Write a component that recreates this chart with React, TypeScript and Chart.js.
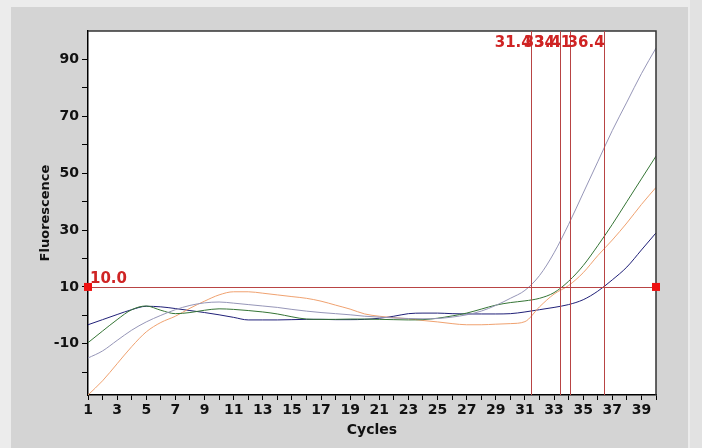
import React, { useEffect, useRef } from "react";
import { Chart, registerables } from "chart.js";

Chart.register(...registerables);

const cycles = [1, 2, 3, 4, 5, 6, 7, 8, 9, 10, 11, 12, 13, 14, 15, 16, 17, 18, 19, 20, 21, 22, 23, 24, 25, 26, 27, 28, 29, 30, 31, 32, 33, 34, 35, 36, 37, 38, 39, 40];

const grayCurve = [-15, -12.5, -8.8, -5.2, -2.3, 0, 2, 3.5, 4.4, 4.7, 4.3, 3.8, 3.3, 2.8, 2.1, 1.5, 1.0, 0.6, 0.2, -0.3, -0.6, -0.9, -1.1, -1.2, -1.1, -0.6, 0.2, 1.5, 3.5, 6.0, 8.8, 14, 22, 32, 43, 54, 65, 75, 85, 94];
const greenCurve = [-9.6, -5.5, -1.5, 2, 3.3, 1.8, 0.6, 1.0, 1.8, 2.3, 2.1, 1.7, 1.2, 0.5, -0.5, -1.3, -1.4, -1.4, -1.3, -1.3, -1.4, -1.5, -1.6, -1.5, -1.0, -0.2, 0.8, 2.2, 3.6, 4.5, 5.1, 6.0, 8.0, 12, 17.5, 24.5, 32, 40, 48, 56];
const orangeCurve = [-28, -23, -17, -11, -5.8, -2.5, -0.3, 2.5, 5, 7.2, 8.3, 8.3, 7.8, 7.2, 6.6, 6.0, 5.0, 3.6, 2.2, 0.5, -0.3, -0.8, -1.2, -1.8, -2.3, -2.9, -3.3, -3.3, -3.1, -2.9, -2.2, 3, 7.5, 10.5, 15, 21, 26.5, 32.5, 39, 45];
const navyCurve = [-3.3, -1.5, 0.3, 2, 3.2, 3.0, 2.4, 1.7, 1.0, 0.2, -0.7, -1.6, -1.6, -1.6, -1.5, -1.4, -1.4, -1.5, -1.5, -1.4, -1.0, -0.3, 0.6, 0.8, 0.8, 0.6, 0.5, 0.5, 0.5, 0.6, 1.2, 2.0, 2.8, 3.8, 5.5, 8.5, 12.5, 17, 23, 29];

const thresholdValue = 10.0;
const thresholdLabel = "10.0";
const ctValues = [31.4, 33.4, 34.1, 36.4];
const ctLabels = ["31.4", "33.4", "34.1", "36.4"];

const yTickValues = [-20, -10, 0, 10, 20, 30, 40, 50, 60, 70, 80, 90];
const yLabeledTicks = [-10, 10, 30, 50, 70, 90];
const xLabeledTicks = [1, 3, 5, 7, 9, 11, 13, 15, 17, 19, 21, 23, 25, 27, 29, 31, 33, 35, 37, 39];

const TICK_FONT = { family: "'DejaVu Sans', sans-serif", size: 14, weight: "bold" as const };
const TITLE_FONT = { family: "'DejaVu Sans', sans-serif", size: 13, weight: "bold" as const };
const X_TITLE_FONT = { family: "'DejaVu Sans', sans-serif", size: 14, weight: "bold" as const };
const RED_LINE = "#b84444";
const RED_TEXT = "#cf2424";

const toPoints = (vals: number[]) => cycles.map((c, i) => ({ x: c, y: vals[i] }));

const panelPlugin = {
  id: "panelPlugin",
  beforeDraw(chart: any) {
    const { ctx, chartArea, width, height } = chart;
    ctx.save();
    ctx.fillStyle = "#ececec";
    ctx.fillRect(0, 0, width, height);
    ctx.fillStyle = "#d4d4d4";
    ctx.fillRect(11, 7, 677, height - 7);
    ctx.fillStyle = "#e2e2e2";
    ctx.fillRect(690, 0, width - 690, height);
    ctx.fillStyle = "#ffffff";
    ctx.fillRect(chartArea.left, chartArea.top, chartArea.right - chartArea.left, chartArea.bottom - chartArea.top);
    ctx.restore();
  },
  afterDatasetsDraw(chart: any) {
    const { ctx, chartArea, scales } = chart;
    const xs = scales.x;
    const ys = scales.y;
    ctx.save();
    // frame top & right
    ctx.strokeStyle = "#333333";
    ctx.lineWidth = 1.5;
    ctx.beginPath();
    ctx.moveTo(chartArea.left, chartArea.top);
    ctx.lineTo(chartArea.right, chartArea.top);
    ctx.lineTo(chartArea.right, chartArea.bottom);
    ctx.stroke();

    // threshold line
    const ty = ys.getPixelForValue(thresholdValue);
    ctx.strokeStyle = RED_LINE;
    ctx.lineWidth = 1;
    ctx.beginPath();
    ctx.moveTo(chartArea.left, Math.round(ty) + 0.5);
    ctx.lineTo(chartArea.right, Math.round(ty) + 0.5);
    ctx.stroke();

    // Ct lines
    ctValues.forEach((v) => {
      const px = Math.round(xs.getPixelForValue(v)) + 0.5;
      ctx.beginPath();
      ctx.moveTo(px, chartArea.top);
      ctx.lineTo(px, chartArea.bottom);
      ctx.stroke();
    });

    // labels
    ctx.fillStyle = RED_TEXT;
    ctx.font = "bold 15px 'DejaVu Sans', sans-serif";
    ctx.textBaseline = "alphabetic";
    ctx.textAlign = "right";
    ctValues.forEach((v, i) => {
      const px = xs.getPixelForValue(v);
      ctx.fillText(ctLabels[i], px + 1, chartArea.top + 16);
    });
    ctx.textAlign = "left";
    ctx.fillText(thresholdLabel, chartArea.left + 2, ty - 4);

    // squares
    ctx.fillStyle = "#ee1111";
    ctx.fillRect(chartArea.left - 4, ty - 4, 8, 8);
    ctx.fillRect(chartArea.right - 4, ty - 4, 8, 8);
    ctx.restore();
  },
};

export default function App() {
  const canvasRef = useRef<HTMLCanvasElement | null>(null);

  useEffect(() => {
    document.body.style.margin = "0";
    const canvas = canvasRef.current;
    if (!canvas) return;
    const mk = (label: string, vals: number[], color: string) => ({
      label,
      data: toPoints(vals),
      borderColor: color,
      backgroundColor: color,
      borderWidth: 1,
      pointRadius: 0,
      cubicInterpolationMode: "monotone" as const,
      fill: false,
    });
    const chart = new Chart(canvas, {
      type: "line",
      data: {
        datasets: [
          mk("Sample 1", grayCurve, "#9696b8"),
          mk("Sample 2", greenCurve, "#357535"),
          mk("Sample 3", orangeCurve, "#f0a270"),
          mk("Sample 4", navyCurve, "#202078"),
        ],
      },
      options: {
        animation: false,
        responsive: false,
        events: [],
        layout: { padding: { left: 12, top: 31, right: 46, bottom: 0 } },
        plugins: {
          legend: { display: false },
          tooltip: { enabled: false },
        },
        scales: {
          x: {
            type: "linear",
            min: 1,
            max: 40,
            afterFit: (s: any) => {
              s.height = 53;
            },
            ticks: {
              stepSize: 1,
              autoSkip: false,
              maxRotation: 0,
              color: "#111111",
              font: TICK_FONT,
              padding: 2,
              callback: (v: any) => (xLabeledTicks.includes(Number(v)) ? String(v) : ""),
            },
            grid: { drawOnChartArea: false, color: "#000000", tickLength: 5 },
            border: { color: "#000000", width: 1.5 },
            title: {
              display: true,
              text: "Cycles",
              color: "#111111",
              font: X_TITLE_FONT,
              padding: { top: 0, bottom: 9 },
            },
          },
          y: {
            type: "linear",
            min: -28,
            max: 100,
            afterFit: (s: any) => {
              s.width = 76;
            },
            afterBuildTicks: (s: any) => {
              s.ticks = yTickValues.map((v) => ({ value: v }));
            },
            ticks: {
              color: "#111111",
              font: TICK_FONT,
              padding: 3,
              callback: (v: any) => (yLabeledTicks.includes(Number(v)) ? String(v) : ""),
            },
            grid: { drawOnChartArea: false, color: "#000000", tickLength: 6 },
            border: { color: "#000000", width: 1.5 },
            title: {
              display: true,
              text: "Fluorescence",
              color: "#111111",
              font: TITLE_FONT,
              padding: { top: 26, bottom: 0 },
            },
          },
        },
      },
      plugins: [panelPlugin],
    });
    return () => chart.destroy();
  }, []);

  return <canvas ref={canvasRef} width={702} height={448} style={{ display: "block" }} />;
}
